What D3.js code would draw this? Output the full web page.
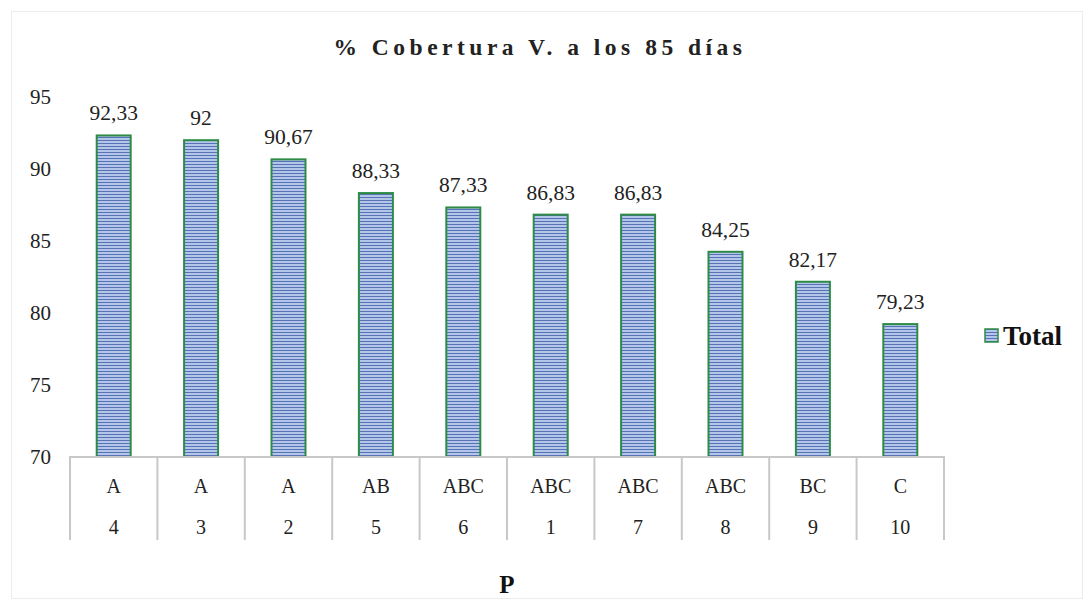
<!DOCTYPE html>
<html><head><meta charset="utf-8">
<script src="https://cdn.jsdelivr.net/npm/d3@7"></script>
<style>body{margin:0;background:#fff}svg{display:block}</style>
</head><body><svg id="c" width="1089" height="602" font-family="'Liberation Serif', 'Times New Roman', 'DejaVu Serif', serif"></svg>
<script>
const letters = ["A","A","A","AB","ABC","ABC","ABC","ABC","BC","C"];
const treatments = ["4","3","2","5","6","1","7","8","9","10"];
const values = [92.33,92,90.67,88.33,87.33,86.83,86.83,84.25,82.17,79.23];
const labels = ["92,33","92","90,67","88,33","87,33","86,83","86,83","84,25","82,17","79,23"];
const yTicks = [70,75,80,85,90,95];
const title = "% Cobertura V. a los 85 días";
const xTitle = "P";
const seriesName = "Total";

const svg = d3.select("#c");
const defs = svg.append("defs");
const pat = defs.append("pattern").attr("id","stripe").attr("patternUnits","userSpaceOnUse")
  .attr("width",6).attr("height",3);
pat.append("rect").attr("width",6).attr("height",3).attr("fill","#b3c6ea");
pat.append("rect").attr("y",2).attr("width",6).attr("height",1).attr("fill","#5673b5");

svg.append("rect").attr("x",11.5).attr("y",11.5).attr("width",1071).attr("height",587)
  .attr("fill","none").attr("stroke","#ececec");

const x0=70, x1=944, yTop=97, yBot=457;
const x = d3.scaleBand().domain(d3.range(values.length)).range([x0,x1]).paddingInner(0).paddingOuter(0);
const y = d3.scaleLinear().domain([70,95]).range([yBot,yTop]);

svg.append("text").attr("x",540).attr("y",55).attr("text-anchor","middle").attr("fill","#222")
  .attr("font-size",23.5).attr("font-weight","bold").attr("letter-spacing",4.5).text(title);

svg.selectAll(".yt").data(yTicks).join("text").attr("x",51).attr("y",d=>y(d)+7).attr("fill","#222")
  .attr("text-anchor","end").attr("font-size",21).text(d=>d);

const bw = 34;
svg.selectAll(".bar").data(values).join("rect")
  .attr("x",(d,i)=>x(i)+x.bandwidth()/2-bw/2).attr("y",d=>y(d))
  .attr("width",bw).attr("height",d=>yBot-y(d))
  .attr("fill","url(#stripe)").attr("stroke","#2e8b45").attr("stroke-width",2);

svg.selectAll(".lab").data(values).join("text")
  .attr("x",(d,i)=>x(i)+x.bandwidth()/2).attr("y",d=>y(d)-15).attr("fill","#222")
  .attr("text-anchor","middle").attr("font-size",21.5).text((d,i)=>labels[i]);

const ag = svg.append("g").attr("stroke","#c8c8c8").attr("stroke-width",2);
ag.append("line").attr("x1",x0-1).attr("x2",x1+1).attr("y1",yBot).attr("y2",yBot);
d3.range(values.length+1).forEach(i=>{
  const xx = i<values.length ? x(i) : x1;
  ag.append("line").attr("x1",xx).attr("x2",xx).attr("y1",yBot).attr("y2",540);
});
svg.selectAll(".l1").data(letters).join("text")
  .attr("x",(d,i)=>x(i)+x.bandwidth()/2).attr("y",493).attr("fill","#222")
  .attr("text-anchor","middle").attr("font-size",20).text(d=>d);
svg.selectAll(".l2").data(treatments).join("text")
  .attr("x",(d,i)=>x(i)+x.bandwidth()/2).attr("y",534).attr("fill","#222")
  .attr("text-anchor","middle").attr("font-size",20).text(d=>d);

svg.append("text").attr("x",507).attr("y",593).attr("text-anchor","middle").attr("fill","#111")
  .attr("font-size",25).attr("font-weight","bold").text(xTitle);

svg.append("rect").attr("x",985).attr("y",329).attr("width",13).attr("height",13)
  .attr("fill","url(#stripe)").attr("stroke","#2e8b45").attr("stroke-width",1.5);
svg.append("text").attr("x",1003).attr("y",345).attr("fill","#111")
  .attr("font-size",27).attr("font-weight","bold").text(seriesName);
</script></body></html>
